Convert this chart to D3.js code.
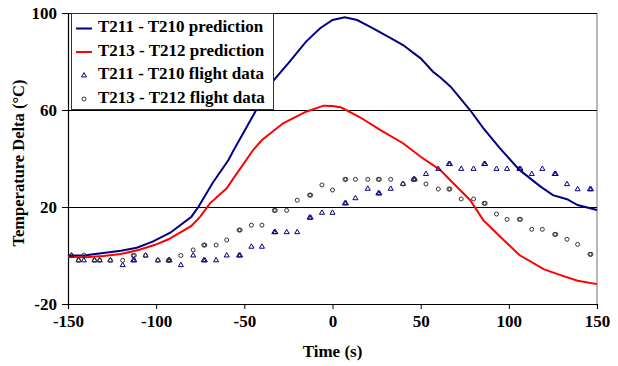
<!DOCTYPE html>
<html><head><meta charset="utf-8">
<script src="https://cdn.jsdelivr.net/npm/d3@7"></script>
<style>
html,body{margin:0;padding:0;background:#fff;}
svg text{font-family:"Liberation Serif","Times New Roman",serif !important;font-weight:bold;}
</style></head>
<body><svg id="chart" width="618" height="366"></svg>
<script>
// ---- data ----
const xTicks = [-150, -100, -50, 0, 50, 100, 150];
const yTicks = [-20, 20, 60, 100];
const seriesNames = ["T211 - T210 prediction", "T213 - T212 prediction", "T211 - T210 flight data", "T213 - T212 flight data"];

const predT211Time = [-150,-140,-130,-120,-111,-102,-92,-80,-76,-68,-59,-56,-43,-34,-25,-15,-7,0,7,14,23,33,40,50,57,61,67,78,85.5,95,106,118,125,133,139,150];
const predT211Val  = [0,0.1,1.0,2.0,3.2,5.7,9.4,16.0,20.1,29.9,39.4,43.5,60.3,71.7,79.3,88.2,93.7,97.1,98.2,97.1,93.7,89.6,86.8,81.3,75.8,73.5,69.6,60,52.5,44.2,35.3,28.4,24.9,23.2,20.8,18.8];

const predT213Time = [-150,-140,-130,-120,-110,-101,-93,-80,-75,-69.5,-60,-56,-45,-40,-28,-15,-5,0,5,15.6,27,40,50,61,68.5,78,85.5,95,106,120,131,139,150];
const predT213Val  = [-0.5,-0.7,-0.2,0.6,2.3,4.3,6.7,12.2,16,21.5,27.7,32,43.5,47.6,54.5,59.3,61.8,61.6,61.0,57,51.8,46.3,40.7,35.3,29.8,22.9,14.6,7.8,0.2,-5.7,-8.5,-10.4,-11.8];

const flightTime = [-148,-144,-141,-135,-132,-126,-119,-113,-106,-99,-93,-86,-79,-73,-66,-60,-53,-46,-40,-33,-26,-20,-13,-6,0,7,13,20,26,33,40,46,53,60,66,73,80,86,93,99,106,113,119,126,133,139,146];
const flightT211 = [0,-2,-2,-2,-2,-2,-4,-2,0,-2,-2,-4,0,-2,-2,0,0,3.6,3.6,9.6,9.6,9.6,15.6,17.6,17.6,21.5,23.6,27.5,25.6,27.5,29.5,31.4,33.6,35.7,37.7,35.7,35.7,37.7,35.7,35.7,35.7,33.6,35.7,33.6,29.4,27.3,27.3];
const flightT213 = [0,-2,0.2,-2,-2,-2,-2,0,0,-2,-2,0,2.3,4.3,4.3,6.4,10.5,12.5,12.5,18.6,18.6,22.8,24.9,29.1,27.0,31.4,31.4,31.4,31.4,31.4,29.5,31.4,29.5,27.4,27.4,23.3,23.3,21.5,17.1,14.9,14.9,10.8,10.8,8.7,6.7,4.6,0.5];
// samples recorded twice (double markers)
const repeatTime = [-113,-93,-73,-53,-33,-13,7,26,46,66,86,106,126,146];

// ---- drawing ----
const svg = d3.select("#chart");
const x = d3.scaleLinear().domain([-150,150]).range([68,597]);
const y = d3.scaleLinear().domain([-20,100]).range([304,13]);
const navy = "#000080", red = "#FF0000", circ = "#333333";
const serif = '"Liberation Serif","Times New Roman",serif';

// plot border right (gray)
svg.append("line").attr("x1",x(150)).attr("x2",x(150)).attr("y1",y(100)).attr("y2",y(-20))
  .attr("stroke","#a0a0a0").attr("stroke-width",1.5);
// gridlines
svg.append("g").selectAll("line").data(yTicks.filter(d=>d>-20)).join("line")
  .attr("x1",x(-150)).attr("x2",x(150))
  .attr("y1",d=>Math.round(y(d))+0.5).attr("y2",d=>Math.round(y(d))+0.5)
  .attr("stroke","#000").attr("stroke-width",1);

// axes
const fmt = d => String(d);
const xAxis = d3.axisBottom(x).tickValues(xTicks).tickSize(5).tickPadding(6).tickFormat(fmt);
const gx = svg.append("g").attr("transform",`translate(0,${y(-20)})`).call(xAxis);
const yAxis = d3.axisLeft(y).tickValues(yTicks).tickSize(6).tickPadding(5).tickFormat(fmt);
const gy = svg.append("g").attr("transform",`translate(${x(-150)},0)`).call(yAxis);
[gx,gy].forEach(g=>{
  g.attr("font-family",null).attr("font-size",null);
  g.select(".domain").attr("stroke","#000").attr("stroke-width",1.2);
  g.selectAll(".tick line").attr("stroke","#000");
  g.selectAll(".tick text").attr("fill","#000")
   .style("font-size","17px").style("font-family",serif).style("font-weight","bold");
});
gx.selectAll(".tick text").attr("dy","0.71em");

// axis titles
svg.append("text").attr("x",x(0)).attr("y",353).attr("text-anchor","middle")
  .attr("dominant-baseline","middle").style("font-size","17px").text("Time (s)");
svg.append("text").attr("transform",`translate(20,163) rotate(-90)`).attr("text-anchor","middle")
  .attr("dominant-baseline","middle").style("font-size","16.5px").text("Temperature Delta (°C)");

// prediction lines
const line = d3.line().x(d=>x(d[0])).y(d=>y(d[1]));
svg.append("path").datum(d3.zip(predT211Time,predT211Val)).attr("d",line)
  .attr("fill","none").attr("stroke",navy).attr("stroke-width",2);
svg.append("path").datum(d3.zip(predT213Time,predT213Val)).attr("d",line)
  .attr("fill","none").attr("stroke",red).attr("stroke-width",2);

// flight data points (with repeated samples)
function withRepeats(vals){
  const pts = d3.zip(flightTime, vals);
  const extra = pts.filter(p=>repeatTime.includes(p[0])).map(p=>[p[0]+0.6,p[1]]);
  return pts.concat(extra);
}
const tri = d3.symbol().type(d3.symbolTriangle).size(11);
svg.append("g").selectAll("path").data(withRepeats(flightT211)).join("path")
  .attr("d",tri).attr("transform",d=>`translate(${x(d[0])},${y(d[1])})`)
  .attr("fill","none").attr("stroke",navy).attr("stroke-width",1);
svg.append("g").selectAll("circle").data(withRepeats(flightT213)).join("circle")
  .attr("cx",d=>x(d[0])).attr("cy",d=>y(d[1])).attr("r",2)
  .attr("fill","none").attr("stroke",circ).attr("stroke-width",1);

// legend
const lg = svg.append("g");
lg.append("rect").attr("x",71.5).attr("y",13.5).attr("width",202).attr("height",96)
  .attr("fill","#fff").attr("stroke","#333").attr("stroke-width",1);
const rowY = [28.5, 52, 75.5, 99];
seriesNames.forEach((name,i)=>{
  const cy = rowY[i];
  if(i<2){
    lg.append("line").attr("x1",76).attr("x2",92).attr("y1",cy).attr("y2",cy)
      .attr("stroke",i===0?navy:red).attr("stroke-width",2);
  } else if(i===2){
    lg.append("path").attr("d",tri).attr("transform",`translate(84,${cy})`)
      .attr("fill","none").attr("stroke",navy);
  } else {
    lg.append("circle").attr("cx",84).attr("cy",cy).attr("r",2).attr("fill","none").attr("stroke",circ);
  }
  lg.append("text").attr("x",98).attr("y",cy).attr("dominant-baseline","middle")
    .style("font-size","17px").attr("fill","#000").text(name);
});
</script></body></html>
